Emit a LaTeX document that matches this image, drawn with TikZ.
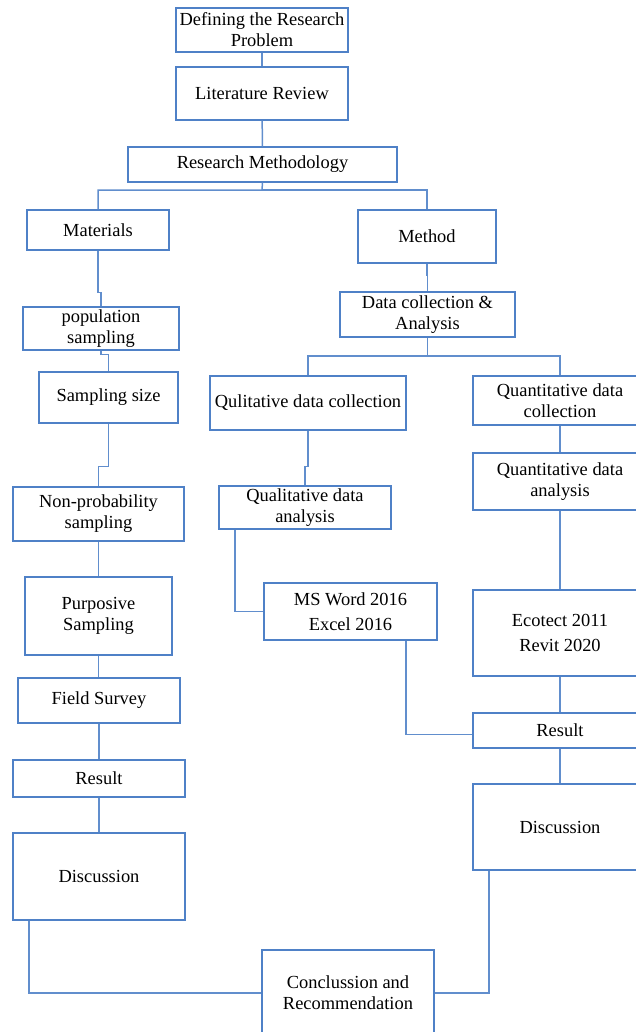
\documentclass[tikz,border=0pt]{standalone}
\usepackage{fontspec}
\setmainfont{Liberation Serif}
\usepackage{tikz}
\usetikzlibrary{calc, positioning}
\definecolor{flowblue}{RGB}{79,129,199}

\begin{document}
\begin{tikzpicture}[
		x=1bp, y=-1bp,
		box/.style={
				draw=flowblue,
				line width=1.4bp,
				align=center,
				inner sep=1bp,
				font=\fontsize{18.5}{21}\selectfont
			},
		sz/.style 2 args={minimum width=#1bp, minimum height=#2bp},
		link/.style={draw=flowblue!90, line width=1.5bp}
	]
	\useasboundingbox (0,0) rectangle (636,1032);
	\clip (0,0) rectangle (636,1032);

	% main trunk
	\node[box, sz={172}{44}] (def) at (262, 30) {Defining the Research\\Problem};
	\node[box, sz={172}{53}] (lit) at (262, 93.5) {Literature Review};
	\node[box, sz={269}{35}] (meth) at (262.5, 164.5) {Research Methodology};

	% materials branch
	\node[box, sz={142}{40}] (mat) at (98, 230) {Materials};
	\node[box, sz={156}{43}] (pop) at (101, 328.5) {population\\sampling};
	\node[box, sz={139}{51}] (size) at (108.5, 397.5) {Sampling size};
	\node[box, sz={171}{54}] (nonp) at (98.5, 514) {Non-probability\\sampling};
	\node[box, sz={147}{78}] (purp) at (98.5, 616) {Purposive\\Sampling};
	\node[box, sz={162}{45}] (field) at (99, 700.5) {Field Survey};
	\node[box, sz={172}{37}] (resL) at (99, 778.5) {Result};
	\node[box, sz={172}{87}] (discL) at (99, 876.5) {Discussion};

	% method branch
	\node[box, sz={138}{53}] (mtd) at (427, 236.5) {Method};
	\node[box, sz={175}{45}] (dca) at (427.5, 314.5) {Data collection \&\\Analysis};
	\node[box, sz={196}{54}] (qlc) at (308, 403) {Qulitative data collection};
	\node[box, sz={172}{43}] (qla) at (305, 507.5) {Qualitative data\\analysis};
	\node[box, sz={173}{57}] (msw) at (350.5, 611.5) {MS Word 2016\\[4bp]Excel 2016};
	\node[box, sz={174}{49}] (qnc) at (560, 400.5) {Quantitative data\\collection};
	\node[box, sz={174}{57}] (qna) at (560, 481.5) {Quantitative data\\analysis};
	\node[box, sz={174}{86}] (eco) at (560, 633) {Ecotect 2011\\[4bp]Revit 2020};
	\node[box, sz={174}{35}] (resR) at (560, 730.5) {Result};
	\node[box, sz={174}{86}] (discR) at (560, 827) {Discussion};

	\node[box, sz={172}{86}] (conc) at (348, 993) {Conclussion and\\Recommendation};

	\coordinate (b1) at (262, 190);
	\coordinate (b2) at (427.5, 356);

	\draw[link] (def) -- (lit);
	\draw[link] (lit) -- (meth);
	\draw[link] (meth.south) -- (b1) -| (mat.north);
	\draw[link] (b1) -| (mtd.north);

	\draw[link] (mat.south) -- ++(0,42) -| (pop.north);
	\draw[link] (pop.south) -- ++(0,4) -| (size.north);
	\draw[link] (size.south) -- ++(0,43) -| (nonp.north);
	\draw[link] (nonp) -- (purp);
	\draw[link] (purp.south) -- (purp.south |- field.north);
	\draw[link] (field) -- (resL);
	\draw[link] (resL) -- (discL);
	\draw[link] ([xshift=17]discL.south west) |- (conc.west);

	\draw[link] (mtd.south) -- ++(0,12) -| (dca.north);
	\draw[link] (dca.south) -- (b2) -| (qlc.north);
	\draw[link] (b2) -| (qnc.north);
	\draw[link] (qlc.south) -- ++(0,36) -| (qla.north);
	\draw[link] ([xshift=17]qla.south west) |- (msw.west);
	\draw[link] ([xshift=-32]msw.south east) |- ([yshift=-4]resR.west);

	\draw[link] (qnc) -- (qna);
	\draw[link] (qna) -- (eco);
	\draw[link] (eco) -- (resR);
	\draw[link] (resR) -- (discR);
	\draw[link] (conc.east) -| ([xshift=17]discR.south west);
\end{tikzpicture}
\end{document}
